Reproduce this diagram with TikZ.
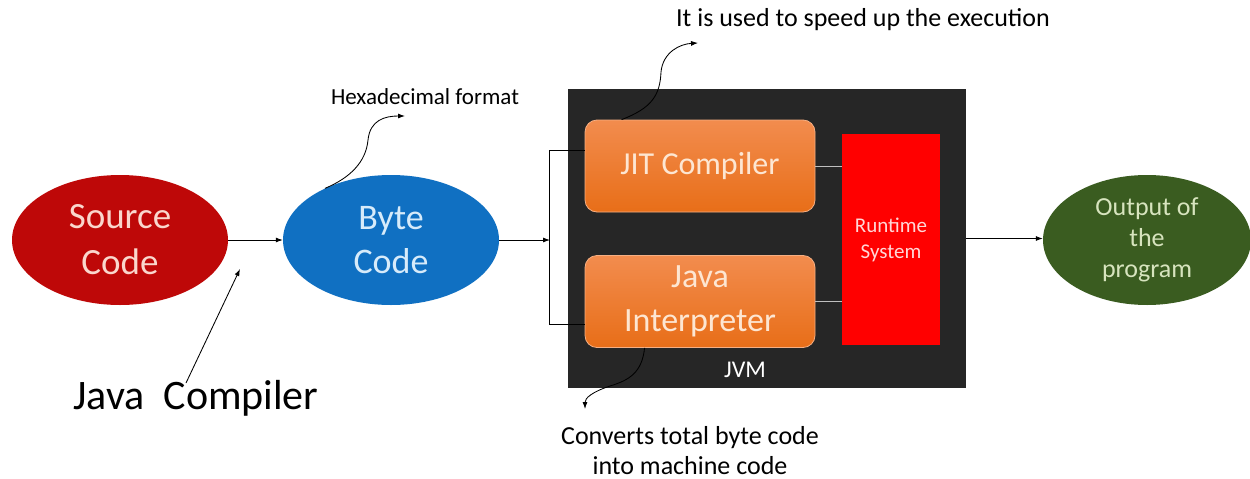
\documentclass[tikz,border=0pt]{standalone}
\usepackage{fontspec}
\setmainfont{Carlito}
\usetikzlibrary{shapes.geometric,arrows.meta}
\definecolor{srcred}{RGB}{190,8,8}
\definecolor{byteblue}{RGB}{16,112,194}
\definecolor{outgreen}{RGB}{58,92,32}
\definecolor{jvmbg}{RGB}{38,38,38}
\definecolor{orangetop}{RGB}{242,140,78}
\definecolor{orangebot}{RGB}{232,110,24}
\definecolor{orangetxt}{RGB}{253,230,210}
\definecolor{rtred}{RGB}{255,0,0}
\tikzset{
  fs/.style n args={2}{font=\fontsize{#1}{#2}\selectfont},
  oval/.style={ellipse, inner sep=0pt, minimum width=216pt, minimum height=130pt, align=center},
  orbox/.style={rectangle, rounded corners=12pt, top color=orangetop, bottom color=orangebot,
     draw=orangetop!70!white, line width=0.8pt, minimum width=230pt, minimum height=92pt,
     align=center, text=orangetxt, inner sep=0pt},
  arr/.style={draw=black, line width=0.85pt, -{Latex[length=7pt,width=5pt]}},
  ln/.style={draw=black, line width=1pt},
  inln/.style={draw=white!75!black, line width=1pt},
  note/.style={text=black, align=center, inner sep=0pt}
}
\begin{document}
\begin{tikzpicture}[x=1pt,y=-1pt]
\useasboundingbox[fill=white] (0,0) rectangle (1250,479);
% ellipses
\node[oval, fill=srcred, text={rgb,255:red,250;green,215;blue,205}, fs={37}{46}] (src) at (120,240) {Source\\Code};
\node[oval, fill=byteblue, text={rgb,255:red,215;green,235;blue,250}, fs={36}{44}] (byte) at (391,240) {Byte\\Code};
\node[oval, fill=outgreen, minimum width=208pt, text={rgb,255:red,215;green,228;blue,190}, fs={26}{31}] (out) at (1147,240) {Output of\\the\\program};
% JVM
\node[rectangle, fill=jvmbg, minimum width=398pt, minimum height=299pt, inner sep=0pt] (jvm) at (767,238.5) {};
\node[orbox, fs={32}{40}] (jit) at (700,166) {JIT Compiler};
\node[orbox, fs={34}{44}] (interp) at (700,301.5) {Java\\Interpreter};
\node[rectangle, fill=rtred, minimum width=98pt, minimum height=211pt, inner sep=0pt, align=center,
      text={rgb,255:red,255;green,215;blue,215}, fs={21}{26}] (rt) at (891,239.5) {Runtime\\System};
\node[text=white, fs={24}{28}, inner sep=0pt] (jvml) at (745,370) {JVM};
\draw[inln] (jit.east) -- (jit.east -| rt.west);
\draw[inln] (interp.east) -- (interp.east -| rt.west);
% texts
\node[note, fs={42}{48}] (jc) at (196,398) {Java\ \ Compiler};
\node[note, fs={23}{28}] (hex) at (425,97) {Hexadecimal format};
\node[note, fs={26}{30}] (speed) at (863,20) {It is used to speed up the execution};
\node[note, fs={26}{30}] (conv) at (690,451) {Converts total byte code\\into machine code};
% connectors
\draw[arr] (src.east) -- (byte.west);
\coordinate (brk) at (550,240);
\draw[arr] (byte.east) -- (brk);
\draw[ln] ([yshift=16pt]jit.west) -- ++(-35,0) |- ([yshift=-23pt]interp.west);
\draw[arr] (jvm.east) -- (jvm.east -| out.west);
\coordinate (jctip) at (240,269);
\coordinate (jcstart) at (186,383);
\draw[arr] (jcstart) -- (jctip);
\coordinate (hextip) at (405,116);
\draw[arr] (byte.142) .. controls (350,178) and (366,162) .. (368,140) .. controls (370,120) and (385,116) .. (hextip);
\coordinate (speedtip) at (698,43);
\draw[arr] ([xshift=37pt]jit.north west) .. controls (652,108) and (660,95) .. (661,72) .. controls (663,52) and (680,44) .. (speedtip);
\coordinate (convtip) at (585,409);
\draw[arr] ([xshift=60pt]interp.south west) .. controls (642,372) and (630,380) .. (610,386) .. controls (592,392) and (585,398) .. (convtip);
\end{tikzpicture}
\end{document}
